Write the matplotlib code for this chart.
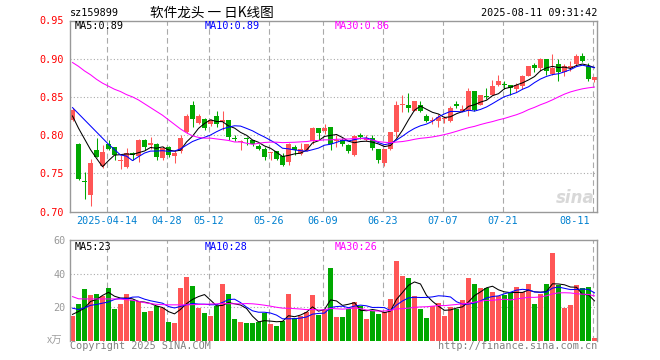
import numpy as np
import pandas as pd
import matplotlib
matplotlib.use('Agg')
import matplotlib.pyplot as plt

# trading days shown on the chart (SZ calendar, holidays removed)
holidays = ['2025-04-04', '2025-05-01', '2025-05-02', '2025-05-05', '2025-06-02']
days = pd.bdate_range('2025-04-03', '2025-08-11')
days = days[~days.isin(pd.to_datetime(holidays))]

opens = [0.820, 0.789, 0.739, 0.722, 0.780, 0.760, 0.788, 0.784, 0.766, 0.758,
         0.776, 0.772, 0.794, 0.787, 0.789, 0.770, 0.784, 0.772, 0.779, 0.804,
         0.840, 0.816, 0.821, 0.815, 0.825, 0.817, 0.820, 0.796, 0.791, 0.796,
         0.794, 0.786, 0.782, 0.776, 0.779, 0.773, 0.765, 0.784, 0.775, 0.781,
         0.792, 0.809, 0.806, 0.811, 0.7925, 0.794, 0.787, 0.774, 0.800, 0.794,
         0.796, 0.782, 0.764, 0.782, 0.804, 0.839, 0.839, 0.832, 0.840, 0.825,
         0.818, 0.818, 0.821, 0.818, 0.841, 0.831, 0.831, 0.858, 0.840, 0.851,
         0.853, 0.865, 0.867, 0.865, 0.860, 0.864, 0.878, 0.892, 0.888, 0.899,
         0.880, 0.893, 0.882, 0.888, 0.893, 0.904, 0.890, 0.872]
highs = [0.836, 0.790, 0.752, 0.769, 0.796, 0.787, 0.794, 0.785, 0.774, 0.783,
         0.778, 0.795, 0.795, 0.797, 0.790, 0.786, 0.786, 0.781, 0.800, 0.827,
         0.844, 0.827, 0.822, 0.821, 0.831, 0.831, 0.820, 0.800, 0.794, 0.798,
         0.794, 0.789, 0.785, 0.778, 0.779, 0.776, 0.790, 0.787, 0.790, 0.789,
         0.811, 0.809, 0.815, 0.811, 0.800, 0.796, 0.789, 0.800, 0.803, 0.800,
         0.800, 0.782, 0.782, 0.804, 0.844, 0.852, 0.855, 0.845, 0.844, 0.827,
         0.824, 0.827, 0.825, 0.838, 0.844, 0.840, 0.862, 0.858, 0.853, 0.862,
         0.872, 0.879, 0.871, 0.866, 0.868, 0.879, 0.891, 0.895, 0.901, 0.899,
         0.906, 0.899, 0.893, 0.897, 0.906, 0.908, 0.895, 0.876]
lows = [0.818, 0.741, 0.716, 0.707, 0.771, 0.757, 0.781, 0.768, 0.755, 0.757,
        0.768, 0.765, 0.781, 0.782, 0.767, 0.768, 0.771, 0.764, 0.776, 0.803,
        0.810, 0.815, 0.807, 0.812, 0.811, 0.807, 0.794, 0.792, 0.781, 0.787,
        0.786, 0.781, 0.768, 0.768, 0.768, 0.759, 0.761, 0.774, 0.774, 0.779,
        0.789, 0.795, 0.802, 0.781, 0.785, 0.786, 0.776, 0.773, 0.795, 0.792,
        0.781, 0.764, 0.759, 0.781, 0.798, 0.830, 0.830, 0.831, 0.830, 0.817,
        0.814, 0.811, 0.816, 0.817, 0.836, 0.831, 0.825, 0.832, 0.840, 0.847,
        0.852, 0.864, 0.860, 0.853, 0.856, 0.860, 0.878, 0.882, 0.884, 0.879,
        0.879, 0.871, 0.877, 0.884, 0.891, 0.896, 0.871, 0.869]
closes = [0.833, 0.742, 0.738, 0.764, 0.771, 0.778, 0.782, 0.774, 0.767, 0.776,
          0.774, 0.794, 0.785, 0.790, 0.771, 0.783, 0.774, 0.777, 0.796, 0.825,
          0.821, 0.825, 0.809, 0.820, 0.814, 0.820, 0.797, 0.795, 0.792, 0.795,
          0.789, 0.782, 0.771, 0.777, 0.769, 0.761, 0.789, 0.781, 0.782, 0.788,
          0.809, 0.803, 0.809, 0.789, 0.794, 0.789, 0.779, 0.799, 0.797, 0.796,
          0.783, 0.767, 0.782, 0.804, 0.839, 0.840, 0.835, 0.845, 0.831, 0.818,
          0.820, 0.824, 0.822, 0.836, 0.838, 0.834, 0.858, 0.833, 0.853, 0.850,
          0.864, 0.871, 0.866, 0.862, 0.865, 0.878, 0.890, 0.888, 0.900, 0.884,
          0.888, 0.882, 0.891, 0.891, 0.904, 0.897, 0.873, 0.876]
# volume in 万
volumes = [14.6, 21.9, 30.5, 27.4, 28.0, 26.8, 31.1, 18.9, 21.9, 28.0,
           24.4, 23.3, 17.1, 17.7, 20.7, 19.7, 11.0, 10.4, 31.1, 37.8,
           32.3, 19.5, 16.4, 14.6, 20.7, 33.5, 28.0, 12.8, 11.0, 10.4,
           10.4, 11.0, 16.4, 9.7, 8.5, 11.4, 28.0, 13.4, 14.6, 17.0,
           27.4, 15.2, 18.3, 43.2, 14.0, 14.0, 18.7, 23.1, 20.3, 12.8,
           17.5, 15.8, 16.8, 25.0, 47.5, 38.4, 37.1, 26.8, 18.9, 13.4,
           20.7, 22.5, 14.6, 20.1, 18.9, 24.4, 37.1, 33.5, 31.1, 31.1,
           29.2, 26.4, 27.4, 28.8, 31.7, 29.2, 33.5, 21.9, 28.0, 33.5,
           52.4, 32.9, 19.5, 21.3, 32.9, 31.1, 31.7, 1.2]

# moving-average values before a full window is visible
ma5_head = [0.825, 0.809, 0.795, 0.781]
ma10_head = [0.836, 0.828, 0.820, 0.812, 0.804, 0.796, 0.788, 0.781, 0.774]
ma30_head = [0.895, 0.890, 0.884, 0.879, 0.873, 0.868, 0.864, 0.860, 0.857, 0.853,
             0.850, 0.846, 0.841, 0.836, 0.831, 0.826, 0.820, 0.814, 0.808, 0.803,
             0.799, 0.797, 0.796, 0.796, 0.795, 0.794, 0.793, 0.791, 0.791]
vol_ma5_head = [15.6, 17.3, 19.3, 23.3]
vol_ma10_head = [19.3, 18.5, 19.5, 21.0, 21.5, 22.3, 23.0, 24.5, 25.2]
vol_ma30_head = [26.2, 24.9, 24.8, 24.8, 24.8, 24.8, 24.8, 24.8, 24.7, 24.4,
                 24.0, 23.4, 22.6, 22.0, 21.6, 21.4, 21.3, 21.3, 21.3, 21.3,
                 21.4, 21.5, 21.6, 21.8, 21.9, 22.0, 22.0, 21.9, 21.9]

tick_dates = ['2025-04-14', '2025-04-28', '2025-05-12', '2025-05-26', '2025-06-09',
              '2025-06-23', '2025-07-07', '2025-07-21', '2025-08-11']
tick_labels = ['2025-04-14', '04-28', '05-12', '05-26', '06-09',
               '06-23', '07-07', '07-21', '08-11']

RED = '#ff5656'
GREEN = '#00a800'
GRID = '#aaaaaa'
BORDER = '#999999'
MONO = 'DejaVu Sans Mono'
CJK = ['Noto Sans CJK SC', 'DejaVu Sans']


def moving_avg(values, n, head):
  ma = pd.Series(values).rolling(n).mean().to_numpy()
  ma[:n - 1] = head
  return ma


W, H = 660, 360
fig = plt.figure(figsize=(W / 100, H / 100), dpi=100)
fig.patch.set_facecolor('white')
ax1 = fig.add_axes([70 / W, (H - 211.5) / H, 527 / W, 191 / H])
ax2 = fig.add_axes([70 / W, (H - 340.5) / H, 527 / W, 100.5 / H])

x = np.arange(len(days))
o = np.array(opens)
c = np.array(closes)
colors = np.where(c >= o, RED, GREEN)

# candles
ax1.vlines(x, lows, highs, colors=colors, linewidth=0.75, zorder=3)
ax1.bar(x, np.maximum(np.abs(c - o), 0.0013), bottom=np.minimum(o, c),
        width=0.82, color=colors, linewidth=0, zorder=3)

ma5 = moving_avg(closes, 5, ma5_head)
ma10 = moving_avg(closes, 10, ma10_head)
ma30 = moving_avg(closes, 30, ma30_head)
ax1.plot(x, ma5, color='black', lw=0.75, zorder=4)
ax1.plot(x, ma10, color='#0000ff', lw=0.75, zorder=4)
ax1.plot(x, ma30, color='#ff00ff', lw=0.75, zorder=4)

# volume
ax2.bar(x, volumes, width=0.82, color=colors, linewidth=0, zorder=3)
vma5 = moving_avg(volumes, 5, vol_ma5_head)
vma10 = moving_avg(volumes, 10, vol_ma10_head)
vma30 = moving_avg(volumes, 30, vol_ma30_head)
ax2.plot(x, vma5, color='black', lw=0.75, zorder=4)
ax2.plot(x, vma10, color='#0000ff', lw=0.75, zorder=4)
ax2.plot(x, vma30, color='#ff00ff', lw=0.75, zorder=4)

xmin, xmax = -0.42, 87.42
for ax in (ax1, ax2):
  ax.set_xlim(xmin, xmax)
  ax.set_xticks([])
  for s in ax.spines.values():
    s.set_color(BORDER)
    s.set_linewidth(1.0)
    s.set_zorder(5)
ax2.spines['bottom'].set_visible(False)

tick_pos = [days.get_loc(pd.Timestamp(d)) for d in tick_dates]
for p in tick_pos:
  for ax in (ax1, ax2):
    ax.axvline(p - 0.33, color=GRID, lw=0.8, ls=(0, (5, 3)), zorder=1)

# price axis
price_ticks = [0.70, 0.75, 0.80, 0.85, 0.90, 0.95]
ax1.set_ylim(0.70, 0.95)
ax1.set_yticks(price_ticks)
ax1.set_yticklabels(['%.2f' % t for t in price_ticks], family=MONO, fontsize=7.3)
ax1.tick_params(axis='y', length=0, pad=4.5, labelcolor='#ff0000')
for t in price_ticks[1:-1]:
  ax1.axhline(t, color=GRID, lw=0.8, ls=(0, (1, 2)), zorder=1)

# volume axis
vol_ticks = [20, 40, 60]
ax2.set_ylim(0, 60)
ax2.set_yticks(vol_ticks)
ax2.set_yticklabels([str(t) for t in vol_ticks], family=MONO, fontsize=7.3)
ax2.tick_params(axis='y', length=0, pad=3, labelcolor=BORDER)
for t in vol_ticks[:-1]:
  ax2.axhline(t, color=GRID, lw=0.8, ls=(0, (1, 2)), zorder=1)
ax2.text(-0.015, 0.0, 'x万', transform=ax2.transAxes, ha='right', va='center',
         family=CJK, fontsize=7.5, color='#a0a0a0')

# date labels
xtrans = ax1.get_xaxis_transform()
for p, lab in zip(tick_pos, tick_labels):
  if p == len(days) - 1:
    ax1.text(p - 0.8, -10 / 191, lab, transform=xtrans, ha='right', va='center',
             family=MONO, fontsize=7.3, color='#0080d0')
  else:
    ax1.text(p - 0.33, -10 / 191, lab, transform=xtrans, ha='center', va='center',
             family=MONO, fontsize=7.3, color='#0080d0')

# MA legends
ax1.text(0.0095, 0.97, 'MA5:%.2f' % ma5[-1], transform=ax1.transAxes, va='center',
         family=MONO, fontsize=7.3, color='black', zorder=6)
ax1.text(0.256, 0.97, 'MA10:%.2f' % ma10[-1], transform=ax1.transAxes, va='center',
         family=MONO, fontsize=7.3, color='#0000ff', zorder=6)
ax1.text(0.503, 0.97, 'MA30:%.2f' % ma30[-1], transform=ax1.transAxes, va='center',
         family=MONO, fontsize=7.3, color='#ff00ff', zorder=6)
ax2.text(0.0095, 0.935, 'MA5:%d' % int(vma5[-1]), transform=ax2.transAxes, va='center',
         family=MONO, fontsize=7.3, color='black', zorder=6)
ax2.text(0.256, 0.935, 'MA10:%d' % int(vma10[-1]), transform=ax2.transAxes, va='center',
         family=MONO, fontsize=7.3, color='#0000ff', zorder=6)
ax2.text(0.503, 0.935, 'MA30:%d' % int(vma30[-1]), transform=ax2.transAxes, va='center',
         family=MONO, fontsize=7.3, color='#ff00ff', zorder=6)

# header
fig.text(70 / W, 1 - 12.5 / H, 'sz159899', family=MONO, fontsize=7.3, va='center')
fig.text(150 / W, 1 - 12.5 / H, '软件龙头 一 日K线图', family=CJK, fontsize=9.8, va='center')
fig.text(597 / W, 1 - 12.5 / H, '2025-08-11 09:31:42', family=MONO, fontsize=7.3,
         va='center', ha='right')

# footer
fig.text(70 / W, 1 - 346 / H, 'Copyright 2025 SINA.COM', family=MONO, fontsize=7.3,
         va='center', color='#808080')
fig.text(597 / W, 1 - 346 / H, 'http://finance.sina.com.cn', family=MONO, fontsize=7.3,
         va='center', ha='right', color='#808080')

# faint sina watermark
ax1.text(0.995, 0.07, 'sina', transform=ax1.transAxes, ha='right', va='center',
         fontsize=12, fontweight='bold', style='italic', color='#d8d8d8', zorder=2)

fig.savefig('out.png', dpi=100, facecolor='white')
